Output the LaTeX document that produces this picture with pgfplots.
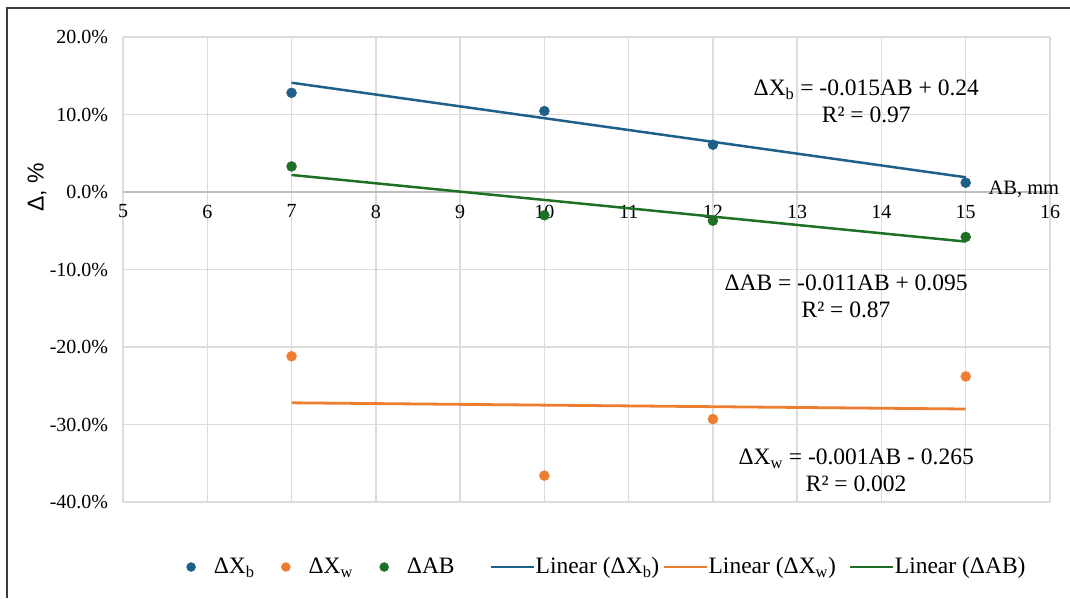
\documentclass[border=0pt]{standalone}
\usepackage{pgfplots}
\pgfplotsset{compat=1.18}
\usepackage{fontspec}
\setmainfont{Liberation Serif}
\newfontfamily\arialfont{Liberation Sans}
\definecolor{cb}{RGB}{31,96,138}
\definecolor{co}{RGB}{237,125,49}
\definecolor{cg}{RGB}{30,112,36}
\definecolor{gridc}{RGB}{220,220,220}
\definecolor{axc}{RGB}{190,190,190}
\definecolor{bord}{RGB}{60,60,60}
\pgfplotsset{
  linleg/.style={legend image code/.code={\draw[##1] (0pt,0pt) -- (43pt,0pt);}},
  markleg/.style={legend image code/.code={\fill[##1] (0pt,0pt) circle (4.5pt);}},
}
\begin{document}
\fontsize{20}{24}\selectfont
\begin{tikzpicture}
\path[use as bounding box] (-123pt,-96pt) rectangle (947pt,502pt);
\draw[line width=1.5pt, bord] (-116pt,-96pt) -- (-116pt,494pt) -- (947pt,494pt);
\begin{axis}[
  at={(0pt,0pt)}, anchor=south west,
  scale only axis, width=927pt, height=465pt,
  xmin=5, xmax=16, ymin=-40, ymax=20,
  xtick={5,6,...,16}, ytick={-40,-30,...,20},
  yticklabels={-40.0\%,-30.0\%,-20.0\%,-10.0\%,0.0\%,10.0\%,20.0\%},
  axis x line=middle, axis y line=left,
  hide obscured x ticks=false,
  x axis line style={draw=axc, line width=1.4pt, -},
  y axis line style={draw=none, -},
  grid=major, grid style={gridc, line width=1.4pt},
  major tick length=0pt,
  tick label style={font=\fontsize{20}{24}\selectfont},
  /pgf/number format/assume math mode=true,
  xticklabel style={yshift=-6pt},
  yticklabel style={xshift=-8pt},
  clip=false,
  legend columns=6,
  legend style={draw=none, fill=none, inner sep=0pt,
    at={(0.0682,-0.1398)}, anchor=west,
    font=\fontsize{23.5}{26}\selectfont,
    nodes={inner sep=0pt},
    /tikz/column 1/.style={column sep=18pt},
    /tikz/column 2/.style={column sep=26.5pt},
    /tikz/column 3/.style={column sep=18pt},
    /tikz/column 4/.style={column sep=26.5pt},
    /tikz/column 5/.style={column sep=18pt},
    /tikz/column 6/.style={column sep=35pt},
    /tikz/column 7/.style={column sep=0.5pt},
    /tikz/column 8/.style={column sep=3pt},
    /tikz/column 9/.style={column sep=0.5pt},
    /tikz/column 10/.style={column sep=13pt},
    /tikz/column 11/.style={column sep=0.5pt}},
]
\addplot[only marks, mark=*, mark size=5pt, cb, markleg] coordinates {(7,12.8) (10,10.45) (12,6.1) (15,1.2)};
\addlegendentry{ΔX\textsubscript{b}}
\addplot[only marks, mark=*, mark size=5pt, co, markleg] coordinates {(7,-21.2) (10,-36.6) (12,-29.3) (15,-23.8)};
\addlegendentry{ΔX\textsubscript{w}}
\addplot[only marks, mark=*, mark size=5pt, cg, markleg] coordinates {(7,3.3) (10,-3.0) (12,-3.7) (15,-5.8)};
\addlegendentry{ΔAB}
\addplot[cb, line width=2.5pt, linleg] coordinates {(7,14.1) (15,1.9)};
\addlegendentry{Linear (ΔX\textsubscript{b})}
\addplot[co, line width=2.8pt, linleg] coordinates {(7,-27.2) (15,-28.0)};
\addlegendentry{Linear (ΔX\textsubscript{w})}
\addplot[cg, line width=2.5pt, linleg] coordinates {(7,2.2) (15,-6.4)};
\addlegendentry{Linear (ΔAB)}
\node[align=center, font=\fontsize{23.5}{27}\selectfont] at (axis cs:13.82,11.7) {ΔX\textsubscript{b} = -0.015AB + 0.24\\R² = 0.97};
\node[align=center, font=\fontsize{23.5}{27}\selectfont] at (axis cs:13.58,-13.4) {ΔAB = -0.011AB + 0.095\\R² = 0.87};
\node[align=center, font=\fontsize{23.5}{27}\selectfont] at (axis cs:13.70,-35.9) {ΔX\textsubscript{w} = -0.001AB - 0.265\\R² = 0.002};
\node[anchor=base, font=\fontsize{20.5}{24}\selectfont] at (axis cs:15.69,-0.3) {AB, mm};
\node[rotate=90, font=\arialfont\fontsize{23}{26}\selectfont] at (axis cs:3.98,0.58) {Δ, \%};
\end{axis}
\end{tikzpicture}
\end{document}
